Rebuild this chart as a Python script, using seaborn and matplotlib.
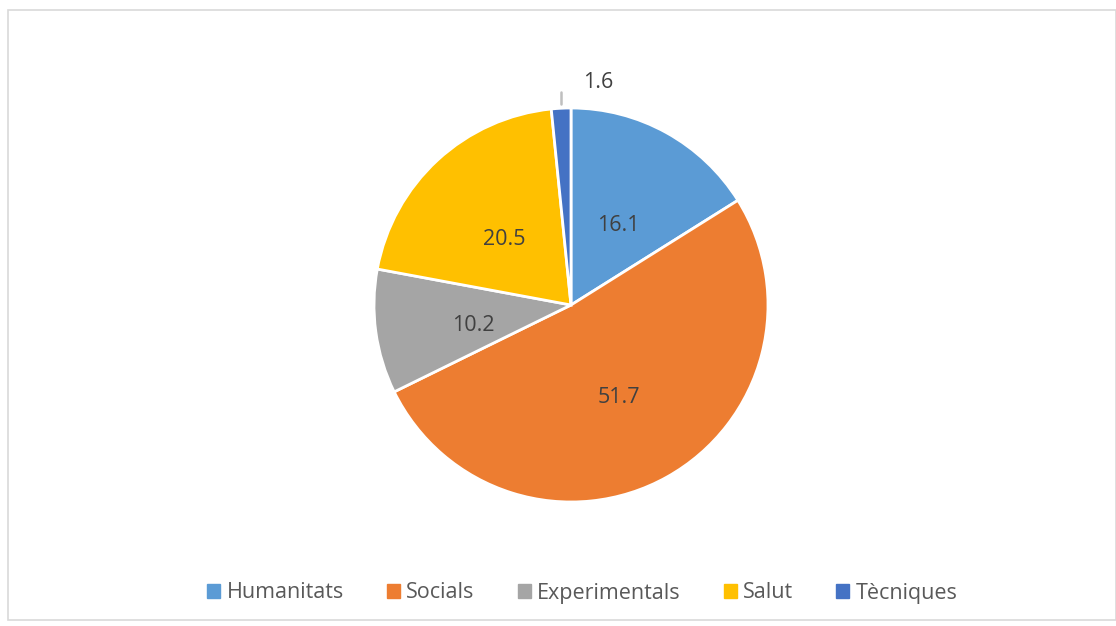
import matplotlib
matplotlib.use("Agg")
import matplotlib.pyplot as plt
import matplotlib.patches as mpatches
import numpy as np
import seaborn as sns

# Data
categories = ["Humanitats", "Socials", "Experimentals", "Salut", "Tècniques"]
values = [16.1, 51.7, 10.2, 20.5, 1.6]
colors = ["#5B9BD5", "#ED7D31", "#A5A5A5", "#FFC000", "#4472C4"]

sns.set_theme(style="white")
plt.rcParams["font.family"] = ["Open Sans", "DejaVu Sans"]

W, H = 1116, 626
fig = plt.figure(figsize=(W / 100, H / 100), dpi=100)
fig.patch.set_facecolor("white")

# light chart-area border
fig.patches.append(mpatches.Rectangle((8 / W, 1 - 620 / H), (W - 8) / W, 610 / H,
                                      transform=fig.transFigure, fill=False,
                                      edgecolor="#D9D9D9", linewidth=1.2))

cx, cy, r = 571, 305, 197
ax = fig.add_axes([(cx - r) / W, (H - cy - r) / H, 2 * r / W, 2 * r / H])

palette = sns.color_palette(colors)
wedges, _ = ax.pie(values, colors=palette, startangle=90, counterclock=False,
                   wedgeprops=dict(edgecolor="white", linewidth=2))
ax.set_xlim(-1, 1)
ax.set_ylim(-1, 1)
ax.set_aspect("equal")
ax.axis("off")

# data labels
total = sum(values)
ang = 90.0
for v in values:
    mid = np.deg2rad(ang - v / total * 180)
    ang -= v / total * 360
    if v < 5:
        lx = 0.97 * np.cos(mid)
        ax.plot([lx, lx], [1.02, 1.08], color="#BFBFBF", linewidth=1.8, clip_on=False)
        ax.text(0.14, 1.13, f"{v}", ha="center", va="center",
                fontsize=15.5, color="#404040", clip_on=False)
    else:
        ax.text(0.5 * np.cos(mid), 0.5 * np.sin(mid) - 0.035, f"{v}", ha="center",
                va="center", fontsize=15.5, color="#404040")

handles = [mpatches.Patch(color=c, label=l) for c, l in zip(palette, categories)]
fig.legend(handles=handles, loc="center", bbox_to_anchor=(0.522, 1 - 593 / H),
           ncol=5, frameon=False, fontsize=15.5, labelcolor="#595959",
           handlelength=0.6, handleheight=0.6, handletextpad=0.3, columnspacing=2.0)

fig.savefig("out.png", dpi=100)
